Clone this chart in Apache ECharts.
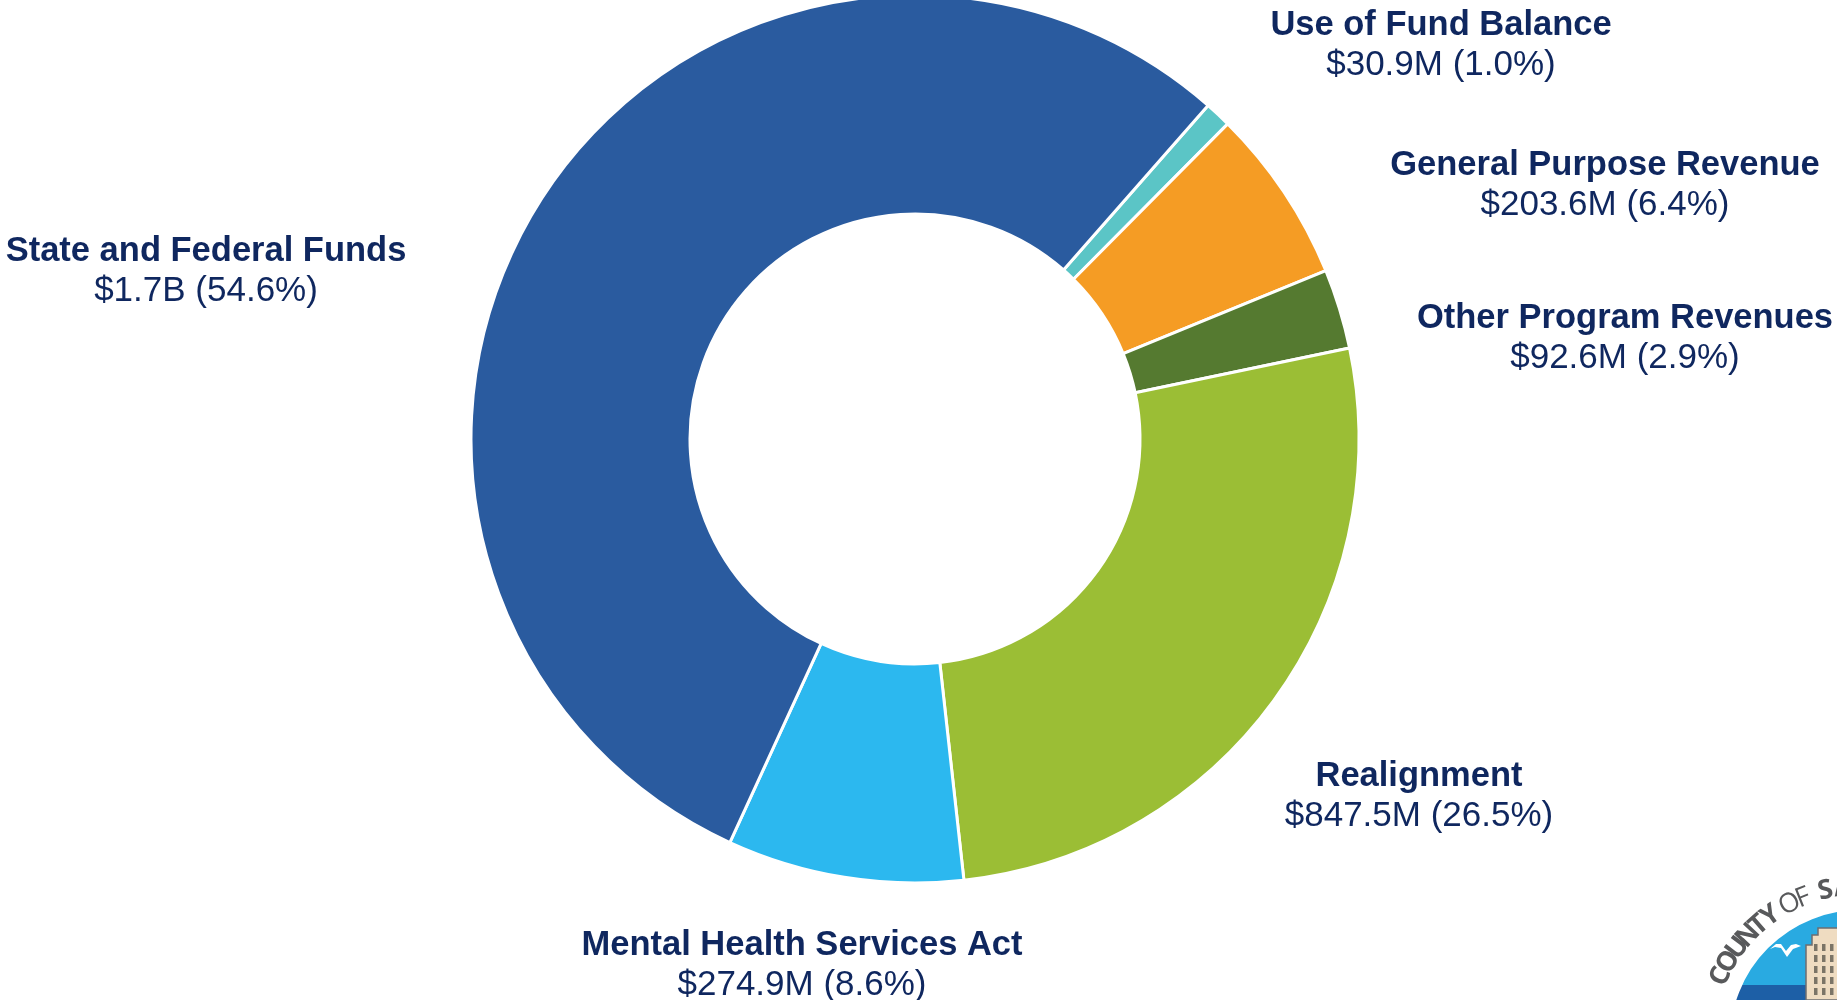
<!DOCTYPE html>
<html>
<head>
<meta charset="utf-8">
<title>Revenue Sources</title>
<script src="https://cdn.jsdelivr.net/npm/echarts@6/dist/echarts.min.js"></script>
<style>
  html, body { margin: 0; padding: 0; background: #ffffff; }
  #chart { width: 1837px; height: 1000px; }
</style>
</head>
<body>
<div id="chart"></div>
<script>
// Revenue sources, in millions of dollars, clockwise from the top right
const categories = [
  'Use of Fund Balance',
  'General Purpose Revenue',
  'Other Program Revenues',
  'Realignment',
  'Mental Health Services Act',
  'State and Federal Funds'
];
const amounts = [30.9, 203.6, 92.6, 847.5, 274.9, 1745.0];
const sliceColors = ['#5bc5c6', '#f59c24', '#557a30', '#9bbe35', '#2cb8ef', '#2a5b9f'];

// Where each two-line label sits (centre of the text block)
const labelSpots = [
  [1441, 45],
  [1605, 185],
  [1625, 338],
  [1419, 796],
  [802, 965],
  [206, 271]
];

const navy = '#0f275f';

function money(v) {
  return v >= 1000 ? '$' + (v / 1000).toFixed(1) + 'B' : '$' + v.toFixed(1) + 'M';
}

// Seal in the bottom-right corner
const sealCx = 1860, sealCy = 1040;
const ringText = [
  ['C', 155.5, 'bold'], ['O', 149.3, 'bold'], ['U', 143, 'bold'], ['N', 137, 'bold'],
  ['T', 131.3, 'bold'], ['Y', 125.8, 'bold'],
  ['O', 117.3, 'normal'], ['F', 111.8, 'normal'],
  ['S', 103, 'bold'], ['A', 96.3, 'bold'], ['N', 89.5, 'bold']
];
const ringRadius = 153;
const sealChildren = [];
sealChildren.push({
  type: 'circle',
  shape: { cx: sealCx, cy: sealCy, r: 131 },
  style: {
    fill: {
      type: 'linear', x: 0, y: 0, x2: 0, y2: 1,
      colorStops: [
        { offset: 0, color: '#29aae1' },
        { offset: 0.29, color: '#29aae1' },
        { offset: 0.29, color: '#1d5fa6' },
        { offset: 1, color: '#1d5fa6' }
      ]
    },
    stroke: '#ffffff', lineWidth: 2
  }
});
// gull
sealChildren.push({
  type: 'polygon',
  shape: { points: [[1770, 949], [1776, 944], [1781, 944], [1786, 951], [1791, 945], [1796, 944], [1801, 946], [1793, 949], [1787, 957], [1781, 948], [1775, 947]] },
  style: { fill: '#ffffff' }
});
// building
sealChildren.push({
  type: 'polygon',
  shape: { points: [[1806, 1000], [1806, 945], [1812, 945], [1812, 935], [1818, 935], [1818, 928], [1840, 928], [1840, 1000]] },
  style: { fill: '#efdcc1', stroke: '#6d6e70', lineWidth: 1.5 }
});
for (let r = 0; r < 5; r++) {
  for (let c = 0; c < 3; c++) {
    sealChildren.push({
      type: 'rect',
      shape: { x: 1814 + c * 8, y: 944 + r * 11, width: 3.5, height: 7 },
      style: { fill: '#7b7466' }
    });
  }
}
ringText.forEach(function (t) {
  const a = t[1] * Math.PI / 180;
  sealChildren.push({
    type: 'text',
    x: sealCx + ringRadius * Math.cos(a),
    y: sealCy - ringRadius * Math.sin(a),
    rotation: a - Math.PI / 2,
    style: {
      text: t[0],
      font: t[2] + ' 27px "Open Sans", "Liberation Sans", sans-serif',
      fill: '#58595b',
      align: 'center',
      verticalAlign: 'middle'
    }
  });
});

const chart = echarts.init(document.getElementById('chart'), null, { renderer: 'canvas' });

chart.setOption({
  backgroundColor: '#ffffff',
  animation: false,
  graphic: [{ type: 'group', silent: true, children: sealChildren }],
  series: [{
    type: 'pie',
    center: [915, 439],
    radius: [225, 444],
    startAngle: 48.7,
    clockwise: true,
    avoidLabelOverlap: false,
    percentPrecision: 1,
    itemStyle: { borderColor: '#ffffff', borderWidth: 3 },
    emphasis: { disabled: true },
    label: {
      show: true,
      position: 'outside',
      formatter: function (p) {
        return '{n|' + p.name + '}\n{v|' + money(p.value) + ' (' + p.percent.toFixed(1) + '%)}';
      },
      rich: {
        n: { fontFamily: '"Liberation Sans", Arial, sans-serif', fontWeight: 'bold', fontSize: 34.5, lineHeight: 40, color: navy, align: 'center' },
        v: { fontFamily: '"Liberation Sans", Arial, sans-serif', fontSize: 35, lineHeight: 40, color: navy, align: 'center' }
      }
    },
    labelLine: { show: false },
    labelLayout: function (p) {
      const s = labelSpots[p.dataIndex];
      return { x: s[0], y: s[1], align: 'center', verticalAlign: 'middle' };
    },
    data: categories.map(function (name, i) {
      return { name: name, value: amounts[i], itemStyle: { color: sliceColors[i] } };
    })
  }]
});
</script>
</body>
</html>
